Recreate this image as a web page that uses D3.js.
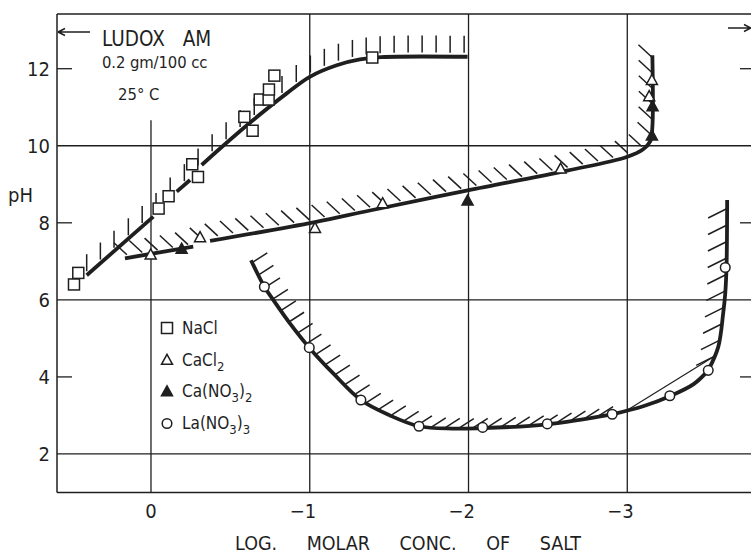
<!DOCTYPE html>
<html>
<head>
<meta charset="utf-8">
<script src="https://cdn.jsdelivr.net/npm/d3@7"></script>
<style>
  body { margin: 0; background: #fff; }
  svg { display: block; font-family: "DejaVu Sans Condensed", "DejaVu Sans", Roboto, sans-serif; }
</style>
</head>
<body>
<svg id="chart" width="751" height="557"></svg>
<script>
// ---- measured points: [log molar conc., pH] ----
const naclPoints = [[0.485, 6.40], [0.458, 6.70], [-0.048, 8.37], [-0.111, 8.69], [-0.260, 9.52],
  [-0.296, 9.19], [-0.588, 10.75], [-0.640, 10.39], [-0.685, 11.20], [-0.741, 11.20],
  [-0.743, 11.46], [-0.777, 11.82], [-1.394, 12.29]];
const cacl2Points = [[0.002, 7.16], [-0.309, 7.61], [-1.033, 7.85], [-1.459, 8.49], [-2.580, 9.39],
  [-3.138, 11.27], [-3.155, 11.69]];
const cano3Points = [[-0.193, 7.31], [-1.994, 8.56], [-3.155, 10.25], [-3.159, 11.01]];
const lano3Points = [[-0.714, 6.34], [-0.997, 4.76], [-1.322, 3.40], [-1.688, 2.72], [-2.089, 2.69],
  [-2.496, 2.78], [-2.905, 3.03], [-3.268, 3.51], [-3.510, 4.17], [-3.617, 6.84]];

// ---- drawn curves (pieces separated where the curve is broken) ----
const naclCurve = [
  [[0.405, 6.64], [-0.015, 8.16]],
  [[-0.162, 8.81], [-0.246, 9.11]],
  [[-0.319, 9.50], [-0.435, 9.93], [-0.644, 10.67], [-0.855, 11.36], [-1.0, 11.79],
   [-1.17, 12.09], [-1.316, 12.24], [-1.45, 12.30], [-1.994, 12.31]]
];
const caCurve = [
  [[0.164, 7.08], [-0.266, 7.38]],
  [[-0.372, 7.53], [-1.033, 8.02], [-1.379, 8.32], [-1.995, 8.84], [-2.628, 9.36],
   [-2.996, 9.71], [-3.10, 9.91], [-3.145, 10.12], [-3.158, 10.49], [-3.158, 12.35]]
];
const laCurveLeft = [[-0.63, 7.03], [-0.714, 6.34], [-0.77, 6.0], [-0.875, 5.39], [-0.997, 4.76],
  [-1.148, 4.09], [-1.322, 3.40], [-1.505, 3.0], [-1.688, 2.72], [-1.9, 2.66], [-2.089, 2.67],
  [-2.496, 2.77], [-2.905, 3.03]];
const laCurveMid = [[-2.905, 3.03], [-3.10, 3.24], [-3.268, 3.50], [-3.42, 3.82], [-3.51, 4.17]];
const laCurveRight = [[-3.51, 4.17], [-3.573, 4.78], [-3.604, 5.65], [-3.617, 6.17], [-3.625, 6.86],
  [-3.629, 8.59]];
const laTangent = [[-2.996, 3.13], [-3.541, 4.52]];

// ---- axes ----
const xTicks = [0, -1, -2, -3];
const yGrid = [10, 6, 2];
const yLabels = [12, 10, 8, 6, 4, 2];
const yShortTicks = [12, 8, 4];

const legendItems = [
  { sym: "square", parts: [["NaCl"]] },
  { sym: "triOpen", parts: [["CaCl"], ["2", "sub"]] },
  { sym: "triFill", parts: [["Ca(NO"], ["3", "sub"], [")"], ["2", "sub"]] },
  { sym: "circle", parts: [["La(NO"], ["3", "sub"], [")"], ["3", "sub"]] }
];

const ink = "#1f1f1f";
const svg = d3.select("#chart");

const x = d3.scaleLinear().domain([0.592, -3.817]).range([57, 757]);
const y = d3.scaleLinear().domain([1.0, 13.42]).range([492.5, 14]);
const [xl, xr] = x.range();
const [yb, yt] = y.range();

const line = d3.line().x(d => x(d[0])).y(d => y(d[1])).curve(d3.curveCatmullRom.alpha(0.5));

// frame
const frame = svg.append("g").attr("stroke", ink).attr("stroke-width", 1.5).attr("fill", "none");
frame.append("line").attr("x1", xl).attr("x2", xl).attr("y1", yt).attr("y2", yb);
frame.append("line").attr("x1", xl).attr("x2", xr).attr("y1", yt).attr("y2", yt);
frame.append("line").attr("x1", xl).attr("x2", xr).attr("y1", yb).attr("y2", yb);

// grid
const grid = svg.append("g").attr("stroke", ink).attr("stroke-width", 1.3);
grid.selectAll(".gy").data(yGrid).join("line")
  .attr("x1", xl).attr("x2", xr).attr("y1", d => y(d)).attr("y2", d => y(d));
grid.selectAll(".gx").data(xTicks).join("line")
  .attr("x1", d => x(d)).attr("x2", d => x(d))
  .attr("y1", d => d === 0 ? y(10.66) : yt).attr("y2", yb);
grid.selectAll(".tl").data(yShortTicks).join("line")
  .attr("x1", xl).attr("x2", xl + 15).attr("y1", d => y(d)).attr("y2", d => y(d));
grid.selectAll(".tr").data(yShortTicks).join("line")
  .attr("x1", xr - 17).attr("x2", xr).attr("y1", d => y(d)).attr("y2", d => y(d));

// tick labels
svg.append("g").selectAll("text").data(yLabels).join("text")
  .attr("x", 50).attr("y", d => y(d)).attr("dy", "0.36em")
  .attr("text-anchor", "end").attr("font-size", 20).attr("fill", ink)
  .text(d => d);
svg.append("g").selectAll("text").data(xTicks).join("text")
  .attr("x", d => d === 0 ? x(d) : x(d) + 6.5).attr("y", 518)
  .attr("text-anchor", d => d === 0 ? "middle" : "end")
  .attr("font-size", 20).attr("fill", ink)
  .text(d => d === 0 ? "0" : "\u2212" + Math.abs(d));

svg.append("text").attr("x", 8).attr("y", 202).attr("font-size", 20).attr("fill", ink).text("pH");
svg.append("text").attr("x", 408).attr("y", 550).attr("text-anchor", "middle")
  .attr("font-size", 19.5).attr("fill", ink).attr("word-spacing", 24)
  .text("LOG. MOLAR CONC. OF SALT");

// annotation
svg.append("text").attr("x", 102).attr("y", 46).attr("font-size", 20.5).attr("fill", ink)
  .attr("word-spacing", 12).text("LUDOX AM");
svg.append("text").attr("x", 102).attr("y", 68).attr("font-size", 16.5).attr("fill", ink)
  .attr("letter-spacing", -0.1).text("0.2 gm/100 cc");
svg.append("text").attr("x", 118).attr("y", 100).attr("font-size", 16.5).attr("fill", ink)
  .text("25\u00b0 C");

// arrows at the top corners
const arrows = svg.append("g").attr("stroke", ink).attr("stroke-width", 1.4).attr("fill", "none");
arrows.append("path").attr("d", "M58,32 H90 M58,32 L65,28.5 M58,32 L65,35.5");
arrows.append("path").attr("d", "M728,28 H751 M751,28 L744,24.5 M751,28 L744,31.5");

// ---- curve helpers ----
function sampleCurve(pts) {
  const p = svg.append("path").attr("d", line(pts)).attr("fill", "none").attr("stroke", "none");
  const node = p.node();
  const L = node.getTotalLength();
  const out = [];
  for (let s = 0; s <= L; s += 0.5) {
    const q = node.getPointAtLength(s);
    out.push({ s, x: q.x, y: q.y });
  }
  p.remove();
  return out;
}
function drawHatches(g, marks, a, b) {
  g.selectAll(null).data(marks).join("line")
    .attr("x1", d => d.x + a[0]).attr("y1", d => d.y + a[1])
    .attr("x2", d => d.x + b[0]).attr("y2", d => d.y + b[1]);
}
function byArc(samples, step, start, keep) {
  const res = [];
  let next = start;
  for (const q of samples) {
    if (q.s >= next) { if (keep(q)) res.push(q); next += step; }
  }
  return res;
}

const curves = svg.append("g").attr("fill", "none").attr("stroke", ink).attr("stroke-width", 3.8);
const hatches = svg.append("g").attr("stroke", ink).attr("stroke-width", 1.5);

// NaCl: vertical hatches above the curve, evenly spaced in x
naclCurve.forEach(pc => curves.append("path").attr("d", line(pc)));
{
  const smp = sampleCurve(naclCurve.flat());
  const marks = [];
  for (let t = 86; t <= 468; t += 14) {
    const q = smp.find(d => d.x >= t);
    if (q) marks.push(q);
  }
  drawHatches(hatches, marks, [0, -4], [0, -21]);
}

// calcium salts: slanted hatches on the upper-left side
caCurve.forEach(pc => curves.append("path").attr("d", line(pc)));
{
  const smp = sampleCurve(caCurve.flat());
  const L = smp[smp.length - 1].s;
  drawHatches(hatches, byArc(smp, 15.5, 3, q => q.s < L - 2), [-1, -3], [-14, -15]);
}

// lanthanum nitrate: hatches inside the U-shaped curve
curves.append("path").attr("d", line(laCurveLeft));
curves.append("path").attr("d", line(laCurveMid));
curves.append("path").attr("d", line(laCurveRight));
svg.append("path").attr("d", line(laTangent)).attr("fill", "none")
  .attr("stroke", ink).attr("stroke-width", 1.2);
{
  const smpL = sampleCurve(laCurveLeft);
  drawHatches(hatches, byArc(smpL, 14, 3, q => q.x < 605), [1, -1], [15, -10]);
  const smpR = sampleCurve(laCurveRight);
  drawHatches(hatches, byArc(smpR, 16.5, 0, q => q.y < 358), [-1, 1], [-19, 10]);
}

// ---- markers ----
function symbol(g, type, cx, cy) {
  if (type === "square") {
    g.append("rect").attr("x", cx - 5.5).attr("y", cy - 5.5).attr("width", 11).attr("height", 11)
      .attr("fill", "#fff").attr("stroke", ink).attr("stroke-width", 1.5);
  } else if (type === "circle") {
    g.append("circle").attr("cx", cx).attr("cy", cy).attr("r", 4.8)
      .attr("fill", "#fff").attr("stroke", ink).attr("stroke-width", 1.5);
  } else {
    const h = 10, w = 11;
    g.append("path")
      .attr("d", `M${cx},${cy - h * 0.62} L${cx + w / 2},${cy + h * 0.38} L${cx - w / 2},${cy + h * 0.38}Z`)
      .attr("fill", type === "triFill" ? ink : "#fff").attr("stroke", ink).attr("stroke-width", 1.5)
      .attr("stroke-linejoin", "miter");
  }
}
const mk = svg.append("g");
naclPoints.forEach(d => symbol(mk, "square", x(d[0]), y(d[1])));
cacl2Points.forEach(d => symbol(mk, "triOpen", x(d[0]), y(d[1])));
cano3Points.forEach(d => symbol(mk, "triFill", x(d[0]), y(d[1])));
lano3Points.forEach(d => symbol(mk, "circle", x(d[0]), y(d[1])));

// ---- legend ----
const lg = svg.append("g").attr("transform", "translate(167,328)");
legendItems.forEach((it, i) => {
  const gy = i * 31.5;
  symbol(lg, it.sym, 0, gy + (it.sym === "square" ? 0 : 1));
  const t = lg.append("text").attr("x", 15).attr("y", gy + 6).attr("font-size", 17).attr("fill", ink);
  it.parts.forEach(p => {
    const ts = t.append("tspan").text(p[0]);
    if (p[1] === "sub") ts.attr("font-size", 13).attr("dy", 5);
    else if (p !== it.parts[0]) ts.attr("dy", -5);
  });
});
</script>
</body>
</html>
